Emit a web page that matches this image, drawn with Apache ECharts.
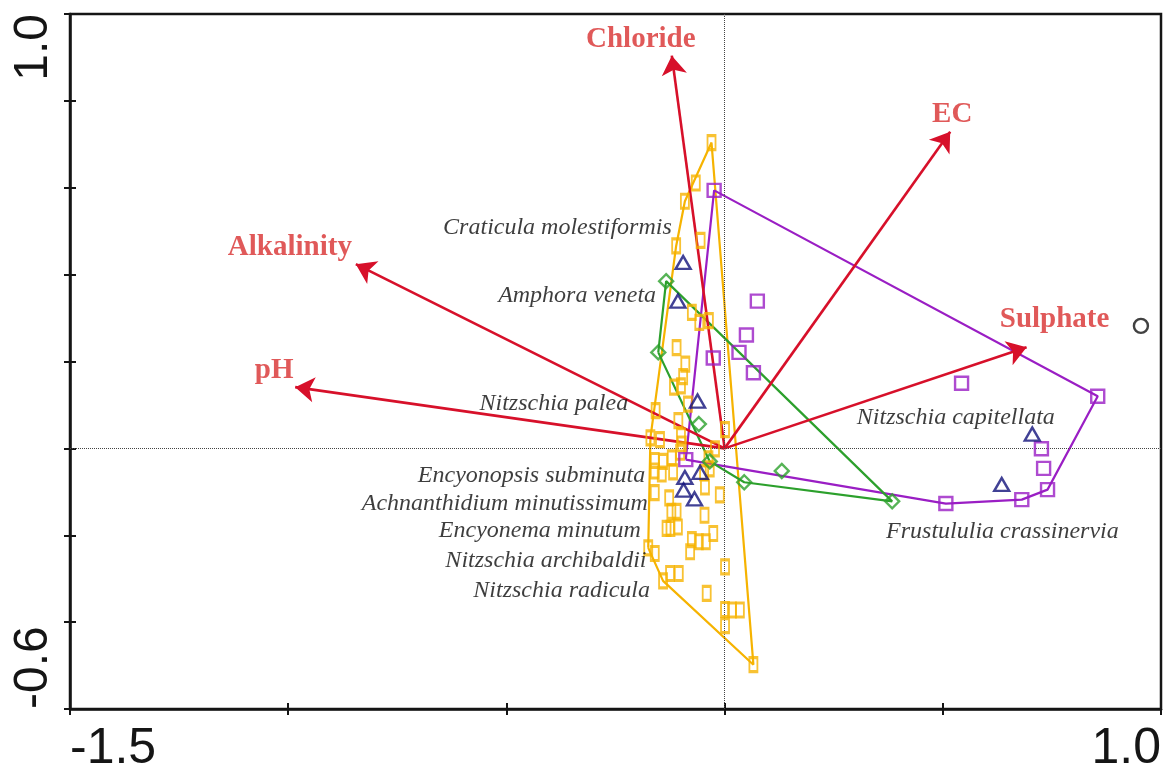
<!DOCTYPE html>
<html><head><meta charset="utf-8">
<script src="https://cdn.jsdelivr.net/npm/echarts@6/dist/echarts.min.js"></script>
<style>html,body{margin:0;padding:0;background:#fff}#c{width:1165px;height:774px}</style>
</head><body><div id="c"></div>
<script>
// ---------- tick labels ----------
const xTickValues = [-1.5, -1.0, -0.5, 0, 0.5, 1.0];
const xTickLabels = ['-1.5', '', '', '', '', '1.0'];
const yTickValues = [-0.6, -0.4, -0.2, 0, 0.2, 0.4, 0.6, 0.8, 1.0];
const yTickLabels = ['-0.6', '', '', '', '', '', '', '', '1.0'];

// ---------- environmental vectors (arrow tips) ----------
const envNames = ['Chloride', 'EC', 'Alkalinity', 'pH', 'Sulphate'];
const envX = [-0.121, 0.517, -0.845, -0.984, 0.692];
const envY = [0.904, 0.729, 0.424, 0.141, 0.233];

// ---------- species scores (label anchors) ----------
const speciesNames = ['Craticula molestiformis', 'Amphora veneta', 'Nitzschia palea',
  'Encyonopsis subminuta', 'Achnanthidium minutissimum', 'Encyonema minutum',
  'Nitzschia archibaldii', 'Nitzschia radicula', 'Nitzschia capitellata', 'Frustululia crassinervia'];
const speciesX = [-0.121, -0.157, -0.221, -0.182, -0.176, -0.192, -0.179, -0.171, 0.303, 0.370];
const speciesY = [0.508, 0.351, 0.102, -0.063, -0.127, -0.189, -0.258, -0.327, 0.070, -0.192];

// ---------- sample scores by group ----------
const goldSamples = [
  [-0.030, 0.704], [-0.066, 0.611], [-0.091, 0.569], [-0.111, 0.466], [-0.055, 0.479],
  [-0.075, 0.313], [-0.058, 0.290], [-0.036, 0.294], [-0.110, 0.232], [-0.090, 0.194],
  [-0.095, 0.165], [-0.116, 0.141], [-0.100, 0.144], [-0.084, 0.102], [-0.158, 0.087],
  [-0.106, 0.064], [0.001, 0.043], [-0.170, 0.024], [-0.148, 0.020], [-0.100, 0.029],
  [-0.022, -0.001], [-0.098, 0.010], [-0.102, -0.009], [-0.160, -0.028], [-0.141, -0.030],
  [-0.121, -0.022], [-0.160, -0.052], [-0.144, -0.059], [-0.118, -0.054], [-0.037, -0.024],
  [-0.034, -0.047], [-0.047, -0.056], [-0.045, -0.089], [-0.160, -0.102], [-0.127, -0.114],
  [-0.011, -0.107], [-0.122, -0.145], [-0.110, -0.145], [-0.046, -0.154], [-0.133, -0.184],
  [-0.124, -0.184], [-0.107, -0.181], [-0.026, -0.196], [-0.075, -0.210], [-0.059, -0.215],
  [-0.043, -0.215], [-0.079, -0.238], [-0.175, -0.229], [-0.160, -0.242], [0.001, -0.273],
  [-0.125, -0.288], [-0.105, -0.288], [-0.141, -0.305], [-0.041, -0.334], [0.001, -0.371],
  [0.017, -0.372], [0.035, -0.372], [0.001, -0.408], [0.066, -0.498]
];
const purpleSamples = [
  [-0.024, 0.594], [0.075, 0.339], [0.050, 0.261], [0.033, 0.221], [-0.026, 0.208],
  [0.066, 0.174], [-0.089, -0.026], [0.543, 0.150], [0.855, 0.120], [0.726, -0.001],
  [0.731, -0.046], [0.740, -0.095], [0.681, -0.118], [0.507, -0.127]
];
const greenSamples = [
  [-0.134, 0.385], [-0.152, 0.221], [-0.059, 0.056], [-0.034, -0.030],
  [0.045, -0.078], [0.131, -0.052], [0.384, -0.122]
];
const navySamples = [
  [-0.095, 0.428], [-0.107, 0.339], [-0.062, 0.109], [-0.091, -0.067], [-0.056, -0.055],
  [-0.094, -0.096], [-0.069, -0.116], [0.705, 0.033], [0.635, -0.083]
];
const otherSamples = [[0.954, 0.282]];

// ---------- helpers ----------
function convexHull(pts) {
  const p = pts.slice().sort((a, b) => a[0] - b[0] || a[1] - b[1]);
  const cross = (o, a, b) => (a[0] - o[0]) * (b[1] - o[1]) - (a[1] - o[1]) * (b[0] - o[0]);
  const lower = [], upper = [];
  for (const q of p) { while (lower.length >= 2 && cross(lower[lower.length - 2], lower[lower.length - 1], q) <= 0) lower.pop(); lower.push(q); }
  for (let i = p.length - 1; i >= 0; i--) { const q = p[i]; while (upper.length >= 2 && cross(upper[upper.length - 2], upper[upper.length - 1], q) <= 0) upper.pop(); upper.push(q); }
  upper.pop(); lower.pop();
  const h = lower.concat(upper); h.push(h[0]); return h;
}
function tickFormatter(values, labels) {
  return v => { const i = values.findIndex(t => Math.abs(t - v) < 1e-6); return i >= 0 ? labels[i] : ''; };
}

const GOLD = '#F6B300', PURPLE = '#9A1EC4', GREEN = '#2CA02C', NAVY = '#12127A';
const ARROW = '#D7102A', ENVTXT = '#D83030';
const AX = '#151515';
const envOffsets = { Chloride: [-31, -16], EC: [2, -17], Alkalinity: [-66, -17], pH: [-21, -17], Sulphate: [28, -28] };

function groupSeries(name, pts, color, symbol, size, withHull) {
  const out = [];
  if (withHull) out.push({
    type: 'line', name: name + ' hull', data: convexHull(pts), showSymbol: false, symbol: 'none',
    lineStyle: { color: color, width: 2.2 }, z: 3, silent: true, animation: false
  });
  out.push({
    type: 'scatter', name: name, data: pts, symbol: symbol, symbolSize: size,
    itemStyle: { color: 'rgba(0,0,0,0)', borderColor: color, borderWidth: 2.4 }, z: 5, silent: true
  });
  return out;
}

const chart = echarts.init(document.getElementById('c'), null, { renderer: 'canvas' });
const tickFamily = '"Liberation Sans", Arial, sans-serif';

const option = {
  animation: false,
  backgroundColor: '#fff',
  grid: { left: 70, right: 4, top: 14, bottom: 63, show: true, borderColor: AX, borderWidth: 2.5, backgroundColor: 'rgba(0,0,0,0)' },
  xAxis: [
    { type: 'value', position: 'bottom', min: -1.5, max: 1.0, interval: 0.5,
      axisLine: { show: true, onZero: false, lineStyle: { color: AX, width: 2.5 } },
      axisTick: { show: true, inside: false, length: 6, lineStyle: { color: AX, width: 2 } },
      splitLine: { show: false },
      axisLabel: { show: true, margin: 15, formatter: tickFormatter(xTickValues, xTickLabels),
        alignMinLabel: 'left', alignMaxLabel: 'right', showMinLabel: true, showMaxLabel: true,
        fontFamily: tickFamily, fontSize: 50, color: AX } },
    { type: 'value', position: 'bottom', min: -1.5, max: 1.0, interval: 0.5,
      axisLine: { show: false, onZero: false },
      axisTick: { show: true, inside: true, length: 6, lineStyle: { color: AX, width: 2 } },
      splitLine: { show: false }, axisLabel: { show: false } }
  ],
  yAxis: [
    { type: 'value', position: 'left', min: -0.6, max: 1.0, interval: 0.2,
      axisLine: { show: true, onZero: false, lineStyle: { color: AX, width: 2.5 } },
      axisTick: { show: true, inside: false, length: 6, lineStyle: { color: AX, width: 2 } },
      splitLine: { show: false },
      axisLabel: { show: true, rotate: 90, margin: 12, formatter: tickFormatter(yTickValues, yTickLabels),
        alignMinLabel: 'left', alignMaxLabel: 'right', showMinLabel: true, showMaxLabel: true,
        fontFamily: tickFamily, fontSize: 48, color: AX } },
    { type: 'value', position: 'left', min: -0.6, max: 1.0, interval: 0.2,
      axisLine: { show: false, onZero: false },
      axisTick: { show: true, inside: true, length: 6, lineStyle: { color: AX, width: 2 } },
      splitLine: { show: false }, axisLabel: { show: false } }
  ],
  series: [
    // zero reference lines
    { type: 'scatter', name: 'zero', data: [], silent: true,
      markLine: { silent: true, symbol: ['none', 'none'], label: { show: false },
        lineStyle: { color: '#444', width: 1, type: 'dotted' },
        data: [{ xAxis: 0 }, { yAxis: 0 }] }, z: 1 },
    ...groupSeries('Group A', goldSamples, GOLD, 'rect', [8, 14], true),
    ...groupSeries('Group B', purpleSamples, PURPLE, 'rect', [13, 13], true),
    ...groupSeries('Group C', greenSamples, GREEN, 'diamond', [14, 14], true),
    ...groupSeries('Group D', navySamples, NAVY, 'triangle', [15, 13], false),
    ...groupSeries('Group E', otherSamples, '#111', 'circle', [14, 14], false),
    // environmental arrows
    { type: 'lines', coordinateSystem: 'cartesian2d', silent: true, z: 4,
      symbol: ['none', 'arrow'], symbolSize: 19,
      lineStyle: { color: ARROW, width: 2.6, opacity: 1, curveness: 0 },
      data: envNames.map((n, i) => ({ coords: [[0, 0], [envX[i], envY[i]]] })) },
    // environmental labels
    { type: 'scatter', name: 'env labels', symbolSize: 0, silent: true, z: 6,
      data: envNames.map((n, i) => ({ name: n, value: [envX[i], envY[i]],
        label: { offset: envOffsets[n] } })),
      label: { show: true, position: 'inside', formatter: p => p.name,
        fontFamily: '"Liberation Serif", "Times New Roman", serif', fontWeight: 'bold', fontSize: 29, color: ENVTXT } },
    // species labels
    { type: 'scatter', name: 'species', symbolSize: 0, silent: true, z: 6,
      data: speciesNames.map((n, i) => ({ name: n, value: [speciesX[i], speciesY[i]],
        label: { position: speciesX[i] > 0 ? 'right' : 'left' } })),
      label: { show: true, distance: 0, formatter: p => p.name,
        fontFamily: '"Liberation Serif", "Times New Roman", serif', fontStyle: 'italic', fontSize: 24, color: '#0d0d0d' } }
  ]
};
chart.setOption(option);
</script>
</body></html>
